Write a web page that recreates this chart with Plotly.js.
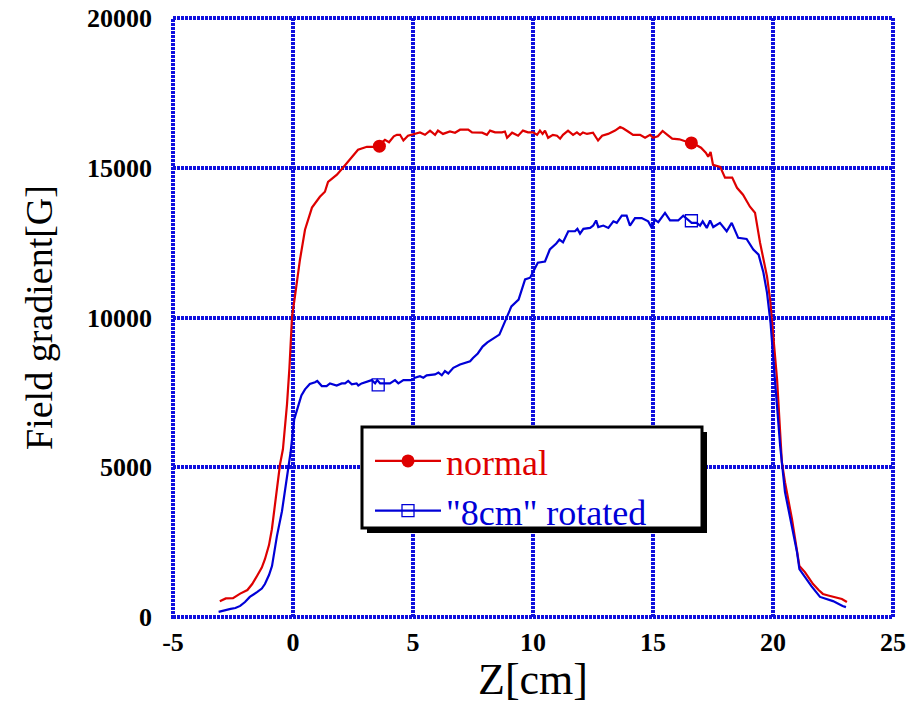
<!DOCTYPE html>
<html>
<head>
<meta charset="utf-8">
<script src="https://cdn.plot.ly/plotly-3.0.1.min.js"></script>
<style>html,body{margin:0;padding:0;background:#fff;}#chart{width:920px;height:704px;}</style>
</head>
<body>
<div id="chart"></div>
<script>
// ---- data ----
const normalZ = [-3.05,-2.8,-2.5,-2.2,-1.9,-1.7,-1.5,-1.3,-1.17,-1.0,-0.88,-0.67,-0.54,-0.42,-0.25,-0.15,-0.04,0.08,0.29,0.5,0.79,1.12,1.33,1.46,1.83,2.08,2.38,2.71,3.08,3.5,3.83,4.0,4.2,4.33,4.46,4.6,4.79,5.08,5.29,5.5,5.71,5.92,6.04,6.25,6.54,6.75,6.96,7.3,7.46,7.88,8.08,8.21,8.42,8.71,8.83,8.92,9.13,9.38,9.58,9.79,10.0,10.17,10.29,10.4,10.5,10.63,10.83,11.0,11.13,11.25,11.46,11.67,11.83,11.96,12.08,12.25,12.5,12.71,12.88,13.13,13.42,13.63,13.75,13.96,14.17,14.46,14.67,14.88,15.0,15.2,15.4,15.6,15.8,16.1,16.5,16.8,17.0,17.2,17.3,17.4,17.5,17.8,18.0,18.3,18.5,18.75,19.04,19.25,19.46,19.75,19.88,20.0,20.17,20.37,20.5,20.79,21.1,21.33,21.67,21.9,22.08,22.3,22.5,22.87,23.08];
const normalG = [530,620,630,780,900,1100,1370,1650,1930,2400,2930,4270,5100,5600,7100,8300,10030,10700,11930,12930,13670,14030,14200,14530,14770,15000,15270,15600,15700,15700,15930,15850,16050,16100,16100,15910,16070,16130,16180,16100,16240,16100,16240,16130,16210,16170,16270,16270,16180,16170,16100,16240,16180,16180,16210,16000,16170,16070,16240,16180,16180,16100,16240,16130,16240,16000,16100,16070,15970,16100,16240,16100,16180,16100,16180,16130,16170,15910,16070,16130,16240,16360,16320,16210,16100,16100,16000,16100,16000,16050,16230,16100,15970,15950,15830,15760,15670,15500,15370,15530,15100,15030,14670,14670,14330,14100,13700,13500,12500,11370,10600,9500,7930,5170,4500,3270,1700,1500,1100,900,770,720,670,600,500];

const rotatedZ = [-3.1,-2.9,-2.6,-2.4,-2.2,-2.0,-1.8,-1.5,-1.3,-1.17,-1.0,-0.875,-0.67,-0.46,-0.25,-0.1,-0.04,0.05,0.2,0.35,0.5,0.7,0.92,1.01,1.2,1.4,1.54,1.82,2.03,2.17,2.3,2.45,2.65,2.72,2.86,3.14,3.28,3.42,3.51,3.63,4.04,4.25,4.39,4.6,4.95,5.08,5.29,5.43,5.57,5.92,6.06,6.2,6.33,6.47,6.68,6.96,7.17,7.38,7.5,7.7,7.9,8.1,8.6,8.75,9.1,9.4,9.67,9.88,10.2,10.5,10.7,10.97,11.1,11.25,11.47,11.75,11.85,11.96,12.1,12.38,12.51,12.63,12.72,12.93,13.14,13.35,13.49,13.7,13.9,14.04,14.25,14.53,14.8,14.95,15.08,15.22,15.5,15.71,16.05,16.26,16.61,16.82,16.96,17.07,17.24,17.38,17.51,17.79,18.07,18.28,18.55,18.9,19.18,19.4,19.6,19.75,19.9,20.08,20.3,20.5,20.7,21.0,21.1,21.3,21.6,21.96,22.25,22.5,22.9,23.04];
const rotatedG = [170,220,270,300,370,500,670,830,950,1100,1400,1700,2700,3530,4600,5500,5930,6600,7000,7400,7600,7780,7840,7880,7710,7710,7800,7730,7800,7800,7880,7770,7800,7730,7800,7880,7910,7800,7910,7800,7800,7910,7800,7910,7910,7990,8040,7990,8070,8100,8160,8070,8210,8130,8320,8430,8490,8540,8650,8800,9030,9170,9430,9700,10370,10600,11270,11330,11830,11870,12270,12470,12600,12510,12880,12880,12960,12800,12960,12990,13070,13240,13020,13070,12990,13210,13160,13400,13400,13070,13320,13320,13210,12990,13270,13180,13490,13240,13240,13400,13160,13160,13070,13210,12990,13240,13020,13160,12880,13160,12660,12620,12270,12100,11500,10830,9800,7930,5700,4170,3370,2170,1600,1370,1030,670,600,530,370,330];

// marker positions (only two symbols per curve in the reference)
const normalMarkZ = [3.6, 16.6];
const normalMarkG = [15720, 15830];
const rotatedMarkZ = [3.55, 16.6];
const rotatedMarkG = [7750, 13230];

const xTicks = [-5, 0, 5, 10, 15, 20, 25];
const yTicks = [0, 5000, 10000, 15000, 20000];

const RED = 'rgb(222,0,0)';
const BLUE = 'rgb(0,0,215)';
const GRID = 'rgb(15,15,222)';

const traces = [
  {x: normalZ, y: normalG, mode: 'lines', line: {color: RED, width: 2.2}, showlegend: false, hoverinfo: 'skip'},
  {x: rotatedZ, y: rotatedG, mode: 'lines', line: {color: BLUE, width: 2.2}, showlegend: false, hoverinfo: 'skip'},
  {x: [normalMarkZ[0], null, normalMarkZ[1]], y: [normalMarkG[0], null, normalMarkG[1]], mode: 'lines+markers', name: 'normal',
   connectgaps: false, line: {color: RED, width: 2.2}, marker: {symbol: 'circle', size: 13, color: RED}},
  {x: [rotatedMarkZ[0], null, rotatedMarkZ[1]], y: [rotatedMarkG[0], null, rotatedMarkG[1]], mode: 'lines+markers', name: '"8cm" rotated',
   connectgaps: false, line: {color: BLUE, width: 2.2}, marker: {symbol: 'square-open', size: 12, color: BLUE, line: {width: 1.3, color: BLUE}}}
];

const W = 720, H = 599;
const px2x = p => (p - 173) / W;
const px2y = p => (617 - p) / H;

const layout = {
  width: 920, height: 704,
  margin: {l: 173, r: 27, t: 18, b: 87},
  paper_bgcolor: '#fff', plot_bgcolor: '#fff',
  font: {family: '"Liberation Serif", serif', color: '#000'},
  xaxis: {
    range: [-5, 25], tickvals: xTicks, ticktext: xTicks.map(String),
    showgrid: true, gridcolor: GRID, gridwidth: 4, griddash: '3px,1px',
    zeroline: false, showline: false, ticks: '', ticklabelstandoff: 7,
    tickfont: {family: '"Liberation Serif", serif', size: 26, weight: 'bold', color: '#000'},
    title: {text: 'Z[cm]', font: {family: '"Liberation Serif", serif', size: 44, color: '#000'}, standoff: 6},
    automargin: false
  },
  yaxis: {
    range: [0, 20000], tickvals: yTicks, ticktext: yTicks.map(String),
    showgrid: true, gridcolor: GRID, gridwidth: 4, griddash: '3px,1px',
    zeroline: false, showline: false, ticks: '', ticklabelstandoff: 20,
    tickfont: {family: '"Liberation Serif", serif', size: 26, weight: 'bold', color: '#000'},
    title: {text: 'Field gradient[G]', font: {family: '"Liberation Serif", serif', size: 38, color: '#000'}, standoff: 22},
    automargin: false
  },
  showlegend: true,
  legend: {
    x: px2x(370), y: px2y(431), xanchor: 'left', yanchor: 'top',
    bgcolor: 'rgba(0,0,0,0)', borderwidth: 0, itemwidth: 66,
    font: {family: '"Liberation Serif", serif', size: 36},
    itemclick: false, itemdoubleclick: false, tracegroupgap: 0
  },
  shapes: [
    {type: 'rect', xref: 'paper', yref: 'paper', x0: 0, x1: 1, y0: 0, y1: 1,
     line: {color: GRID, width: 4, dash: '3px,1px'}, fillcolor: 'rgba(0,0,0,0)', layer: 'above'},
    {type: 'rect', xref: 'paper', yref: 'paper', x0: px2x(367), x1: px2x(707), y0: px2y(533), y1: px2y(432),
     line: {width: 0}, fillcolor: '#000', layer: 'above'},
    {type: 'rect', xref: 'paper', yref: 'paper', x0: px2x(362), x1: px2x(702), y0: px2y(528), y1: px2y(427),
     line: {color: '#000', width: 3}, fillcolor: '#fff', layer: 'above'}
  ]
};

Plotly.newPlot('chart', traces, layout, {displayModeBar: false, staticPlot: true}).then(() => {
  const texts = document.querySelectorAll('.legend .traces .legendtext');
  const cols = [RED, BLUE];
  texts.forEach((t, i) => { t.style.fill = cols[i]; });
});
</script>
</body>
</html>
